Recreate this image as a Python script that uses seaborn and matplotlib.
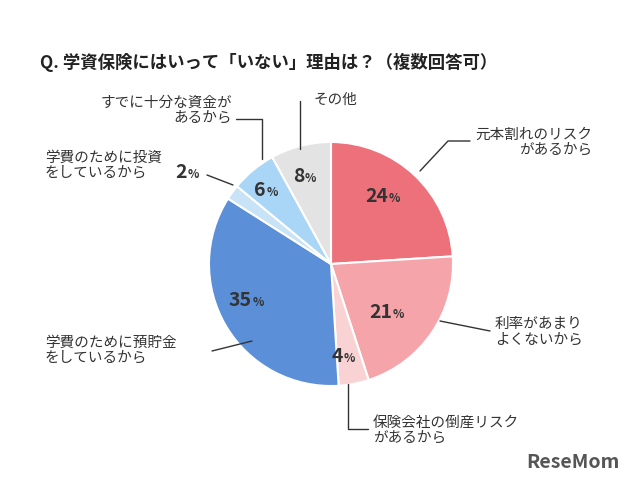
import matplotlib
matplotlib.use("Agg")
import matplotlib.pyplot as plt
import seaborn as sns

labels = ["元本割れのリスク\nがあるから", "利率があまり\nよくないから", "保険会社の倒産リスク\nがあるから",
          "学費のために預貯金\nをしているから", "学費のために投資\nをしているから", "すでに十分な資金が\nあるから", "その他"]
values = [24, 21, 4, 35, 2, 6, 8]
colors = ["#ec717b", "#f5a4aa", "#f9d2d4", "#5b8fd8", "#c8e2f6", "#a9d5f6", "#e3e3e3"]

sns.set_theme(style="white")
plt.rcParams['font.family'] = ['Noto Sans CJK JP', 'DejaVu Sans']

W, H = 640, 481
fig = plt.figure(figsize=(6.4, 4.81), dpi=100)
cx, cy, r = 331, 265, 122
ax = fig.add_axes([(cx - r) / W, (H - cy - r) / H, 2 * r / W, 2 * r / H])
ax.pie(values, colors=colors, startangle=90, counterclock=False, radius=1,
       wedgeprops=dict(edgecolor="white", linewidth=1.5))
ax.set_xlim(-1, 1); ax.set_ylim(-1, 1); ax.set_aspect("equal"); ax.axis("off")

def px(x, y):
    return x / W, 1 - y / H

fig.text(*px(40, 62), "Q. 学資保険にはいって「いない」理由は？（複数回答可）",
         fontsize=12.5, fontweight="bold", va="center", color="#222222")

# percent labels (pixel centres)
pct_pos = [(388, 196), (392, 312), (343, 356), (252, 300), (187, 172), (266, 190), (304, 176)]
for v, (x, y) in zip(values, pct_pos):
    fig.text(*px(x, y), str(v), fontsize=14, fontweight="bold", ha="right", va="center", color="#333333")
    fig.text(*px(x + 1, y + 2), "%", fontsize=8.5, fontweight="bold", ha="left", va="center", color="#333333")

# leader lines
lines = [
    [(420, 172), (448, 142), (470, 142)],
    [(440, 322), (490, 332)],
    [(348, 385), (348, 430), (368, 430)],
    [(212, 352), (252, 342)],
    [(207, 176), (233, 186)],
    [(236, 120), (262, 120), (262, 160)],
    [(300, 102), (300, 150)],
]
for pts in lines:
    xs = [p[0] / W for p in pts]; ys = [1 - p[1] / H for p in pts]
    fig.add_artist(plt.Line2D(xs, ys, color="#333333", lw=1, transform=fig.transFigure))

text_specs = [
    (475, 142, "left"), (495, 332, "left"), (373, 430, "left"),
    (45, 350, "left"), (45, 165, "left"), (232, 110, "right"), (314, 100, "left"),
]
for lab, (x, y, ha) in zip(labels, text_specs):
    fig.text(*px(x, y), lab, fontsize=10.5, ha=ha, va="center", color="#333333",
             linespacing=1.1, multialignment="right" if lab.startswith(("元本", "すでに")) else "left")

fig.text(*px(620, 462), "ReseMom", fontsize=14, fontweight="bold", ha="right", va="center", color="#555555")
fig.savefig("out.png", dpi=100)
